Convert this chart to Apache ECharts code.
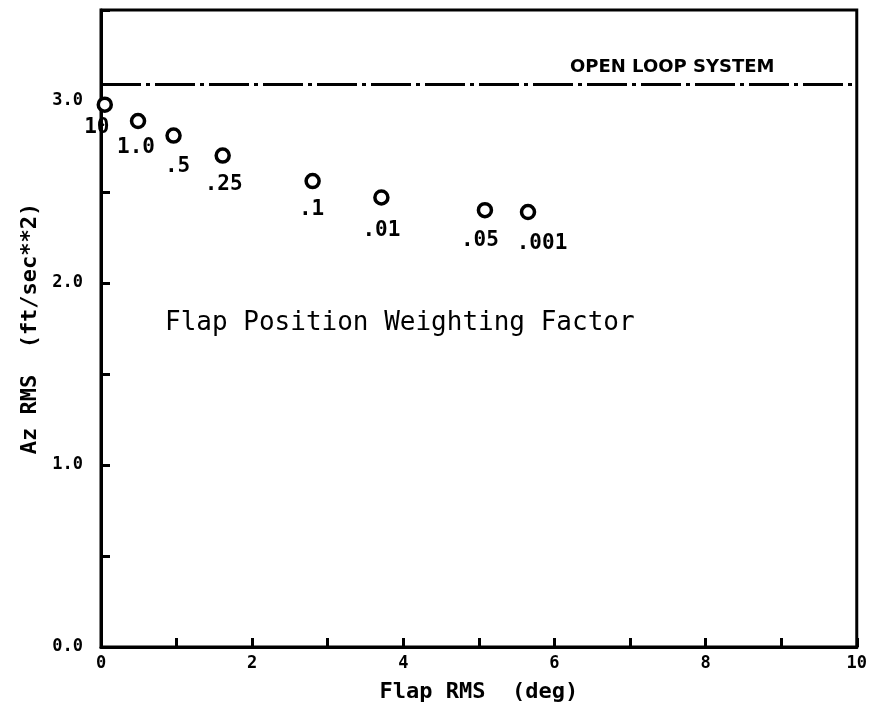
<!DOCTYPE html>
<html>
<head>
<meta charset="utf-8">
<script src="https://cdn.jsdelivr.net/npm/echarts@6/dist/echarts.min.js"></script>
<style>
  html, body { margin: 0; padding: 0; background: #fff; }
  #chart { width: 870px; height: 718px; }
</style>
</head>
<body>
<div id="chart"></div>
<script>
// flap RMS (deg) vs Az RMS for each weighting factor
var flapRms = [0.05, 0.49, 0.96, 1.61, 2.80, 3.71, 5.08, 5.65];
var azRms = [2.98, 2.89, 2.81, 2.70, 2.56, 2.47, 2.40, 2.39];
var weightLabels = ['10', '1.0', '.5', '.25', '.1', '.01', '.05', '.001'];
var labelOffsets = [[-8, 0], [-2, 4], [4, 8], [1, 6], [-1, 6], [0, 10], [-5, 8], [14, 9]];
var openLoopX = [0, 10];
var openLoopY = [3.09, 3.09];

var mono = 'DejaVu Sans Mono';
var chart = echarts.init(document.getElementById('chart'));

var points = flapRms.map(function (x, i) {
  return {
    value: [x, azRms[i]],
    label: { formatter: weightLabels[i], offset: labelOffsets[i] }
  };
});

chart.setOption({
  backgroundColor: '#fff',
  animation: false,
  grid: {
    left: 101, right: 12, top: 10, bottom: 71,
    show: true, borderColor: '#000', borderWidth: 3
  },
  xAxis: {
    type: 'value', min: 0, max: 10, interval: 1,
    name: 'Flap RMS  (deg)', nameLocation: 'middle', nameGap: 34,
    nameTextStyle: { fontFamily: mono, fontWeight: 'bold', fontSize: 22, color: '#000' },
    axisLine: { lineStyle: { color: '#000', width: 3 } },
    axisTick: { inside: true, length: 9, lineStyle: { color: '#000', width: 3 } },
    axisLabel: {
      margin: 8, fontFamily: mono, fontWeight: 'bold', fontSize: 17, color: '#000',
      formatter: function (v) { return v % 2 === 0 ? String(v) : ''; }
    },
    splitLine: { show: false }
  },
  yAxis: {
    type: 'value', min: 0, max: 3.5, interval: 0.5,
    name: 'Az RMS  (ft/sec**2)', nameLocation: 'middle', nameGap: 50,
    nameTextStyle: { fontFamily: mono, fontWeight: 'bold', fontSize: 22, color: '#000' },
    axisLine: { lineStyle: { color: '#000', width: 3 } },
    axisTick: { inside: true, length: 9, lineStyle: { color: '#000', width: 3 } },
    axisLabel: {
      margin: 18, fontFamily: mono, fontWeight: 'bold', fontSize: 17, color: '#000',
      formatter: function (v) { return (v % 1 === 0 && v < 3.5) ? v.toFixed(1) : ''; }
    },
    splitLine: { show: false }
  },
  series: [
    {
      type: 'line',
      data: openLoopX.map(function (x, i) { return [x, openLoopY[i]]; }),
      symbol: 'none',
      lineStyle: { color: '#000', width: 3, type: [40, 5, 4, 5] },
      silent: true
    },
    {
      type: 'scatter',
      data: points,
      symbol: 'circle',
      symbolSize: 13,
      itemStyle: { color: '#fff', borderColor: '#000', borderWidth: 3.5, opacity: 1 },
      label: {
        show: true, position: 'bottom', distance: 4,
        fontFamily: mono, fontWeight: 'bold', fontSize: 21, color: '#000'
      }
    }
  ],
  graphic: [
    {
      type: 'text', left: 570, top: 58,
      style: { text: 'OPEN LOOP SYSTEM', fontFamily: 'DejaVu Sans', fontWeight: 'bold', fontSize: 18, fill: '#000' }
    },
    {
      type: 'text', left: 165, top: 310,
      style: { text: 'Flap Position Weighting Factor', fontFamily: mono, fontSize: 26, fill: '#000' }
    }
  ]
});
</script>
</body>
</html>
